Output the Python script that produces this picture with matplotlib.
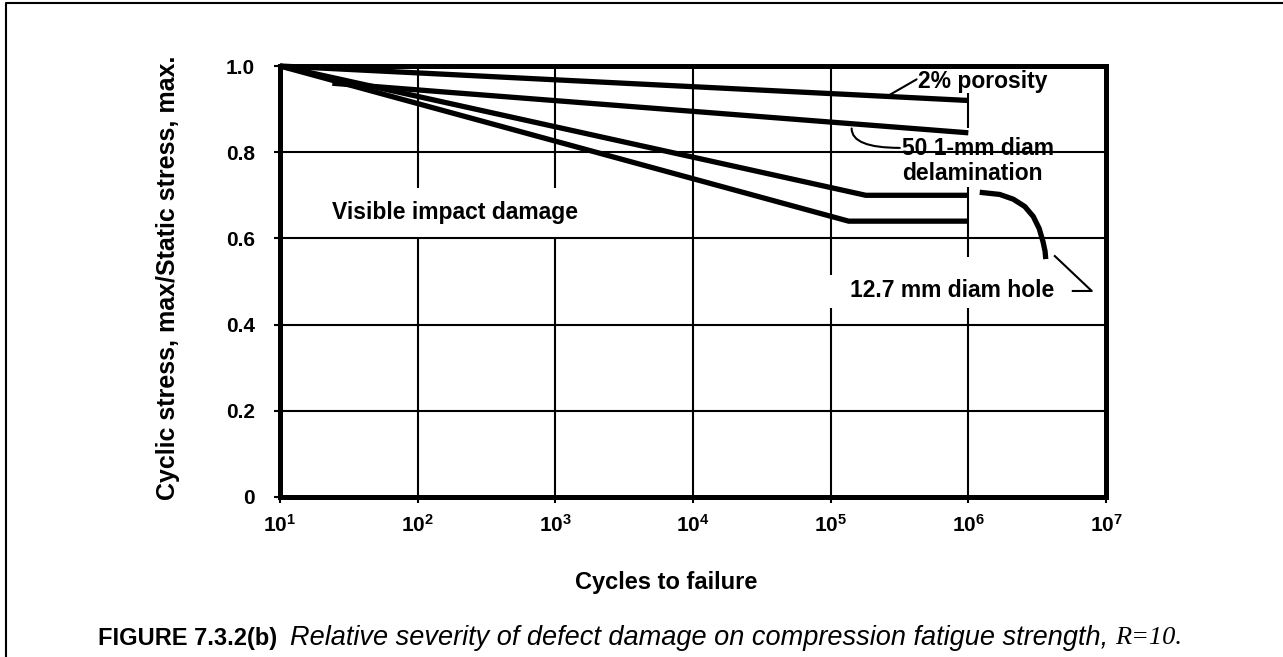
import matplotlib
matplotlib.use("Agg")
import matplotlib.pyplot as plt
from matplotlib.lines import Line2D

plt.rcParams["font.family"] = "Liberation Sans"
plt.rcParams["font.weight"] = "bold"
plt.rcParams["mathtext.fontset"] = "custom"
plt.rcParams["mathtext.rm"] = "Liberation Sans:bold"
plt.rcParams["mathtext.it"] = "Liberation Sans:bold"
plt.rcParams["mathtext.bf"] = "Liberation Sans:bold"

# S-N curves, stress ratio vs cycles to failure
porosity_x = [10, 1e6]
porosity_y = [1.0, 0.92]
delam_x = [24, 1e6]
delam_y = [0.96, 0.845]
hole_x = [10, 1.8e5, 1e6]
hole_y = [1.0, 0.70, 0.70]
impact_x = [10, 1.35e5, 1e6]
impact_y = [1.0, 0.64, 0.64]
# runout drop-off past 10^6 for the hole curve
runout_x = [1.21e6, 1.69e6, 2.12e6, 2.57e6, 2.96e6, 3.27e6, 3.49e6, 3.61e6, 3.65e6]
runout_y = [0.707, 0.702, 0.691, 0.674, 0.651, 0.623, 0.592, 0.570, 0.552]

y_ticks = [0, 0.2, 0.4, 0.6, 0.8, 1.0]
y_tick_labels = ["0", "0.2", "0.4", "0.6", "0.8", "1.0"]
x_ticks = [1e1, 1e2, 1e3, 1e4, 1e5, 1e6, 1e7]
x_tick_labels = [r"$10^{%d}$" % k for k in range(1, 8)]

# vertical grid segments (x, y_from, y_to), broken around the labels
vgrid_x = [1e2, 1e2, 1e3, 1e3, 1e4, 1e5, 1e5, 1e6, 1e6, 1e6]
vgrid_lo = [0.717, 0.0, 0.717, 0.0, 0.0, 0.515, 0.0, 0.856, 0.557, 0.0]
vgrid_hi = [1.0, 0.6, 1.0, 0.6, 1.0, 1.0, 0.439, 0.937, 0.719, 0.439]

fig = plt.figure(figsize=(12.83, 6.57), dpi=100)
ax = fig.add_axes([280 / 1283, 1 - 497 / 657, 826 / 1283, 431 / 657])

ax.set_xscale("log")
ax.set_xlim(10, 1e7)
ax.set_ylim(0, 1.0)

ax.hlines([0.2, 0.4, 0.6, 0.8], 10, 1e7, colors="black", lw=1.5, zorder=1)
ax.vlines(vgrid_x, vgrid_lo, vgrid_hi, colors="black", lw=1.5, zorder=1)

curve_kw = dict(color="black", lw=3.8, solid_capstyle="butt", solid_joinstyle="miter",
                clip_on=False, zorder=3)
ax.plot(porosity_x, porosity_y, **curve_kw)
ax.plot(delam_x, delam_y, **curve_kw)
ax.plot(hole_x, hole_y, **curve_kw)
ax.plot(impact_x, impact_y, **curve_kw)
ax.plot(runout_x, runout_y, color="black", lw=3.8, solid_capstyle="butt",
        solid_joinstyle="round", zorder=3)

for s in ax.spines.values():
    s.set_linewidth(3.6)
    s.set_zorder(4)

ax.set_xticks(x_ticks)
ax.set_xticklabels(x_tick_labels)
ax.xaxis.set_minor_locator(matplotlib.ticker.NullLocator())
ax.set_yticks(y_ticks)
ax.set_yticklabels(y_tick_labels)
ax.tick_params(axis="both", direction="out", length=4, width=1.5, labelsize=15)
ax.tick_params(axis="y", pad=14)
ax.tick_params(axis="x", pad=8)

fig.text(168 / 1283, 1 - 278 / 657, "Cyclic stress, max/Static stress, max.",
         fontsize=18, fontweight="bold", rotation=90, ha="center", va="center")
fig.text(666 / 1283, 1 - 582 / 657, "Cycles to failure", fontsize=17, fontweight="bold",
         ha="center", va="center")

txt_kw = dict(fontsize=16.5, fontweight="bold", va="center", ha="left")
ax.text(4.3e5, 0.963, "2% porosity", **txt_kw)
ax.text(3.29e5, 0.780, "50 1-mm diam\ndelamination", linespacing=1.1, **txt_kw)
ax.text(23.7, 0.659, "Visible impact damage", **txt_kw)
ax.text(1.38e5, 0.480, "12.7 mm diam hole", **txt_kw)

lead_kw = dict(arrowstyle="-", color="black", lw=1.5, shrinkA=0, shrinkB=0)
ax.annotate("", xy=(2.55e5, 0.929), xytext=(4.21e5, 0.969), arrowprops=lead_kw)
ax.annotate("", xy=(1.42e5, 0.855), xytext=(3.18e5, 0.810),
            arrowprops=dict(connectionstyle="angle3,angleA=0,angleB=90", **lead_kw))
ax.plot([4.25e6, 7.88e6, 5.74e6], [0.559, 0.478, 0.478], color="black", lw=1.5,
        clip_on=False)

# page frame
fig.add_artist(Line2D([6 / 1283, 6 / 1283, 1.0], [0.0, 1 - 3 / 657, 1 - 3 / 657],
                      transform=fig.transFigure, color="black", lw=1.5))

# caption
cap_y = 1 - 638 / 657
fig.text(98 / 1283, cap_y, "FIGURE 7.3.2(b)", fontsize=17, fontweight="bold",
         va="center", ha="left")
t2 = fig.text(290 / 1283, cap_y,
              "Relative severity of defect damage on compression fatigue strength, ",
              fontsize=19.5, fontweight="normal", style="italic", va="center", ha="left")
fig.canvas.draw()
bb = t2.get_window_extent()
fig.text(bb.x1 / fig.bbox.width, cap_y, "R=10.", family="Liberation Serif",
         fontsize=19, style="italic", fontweight="normal", va="center", ha="left")

fig.savefig("out.png", dpi=100)
